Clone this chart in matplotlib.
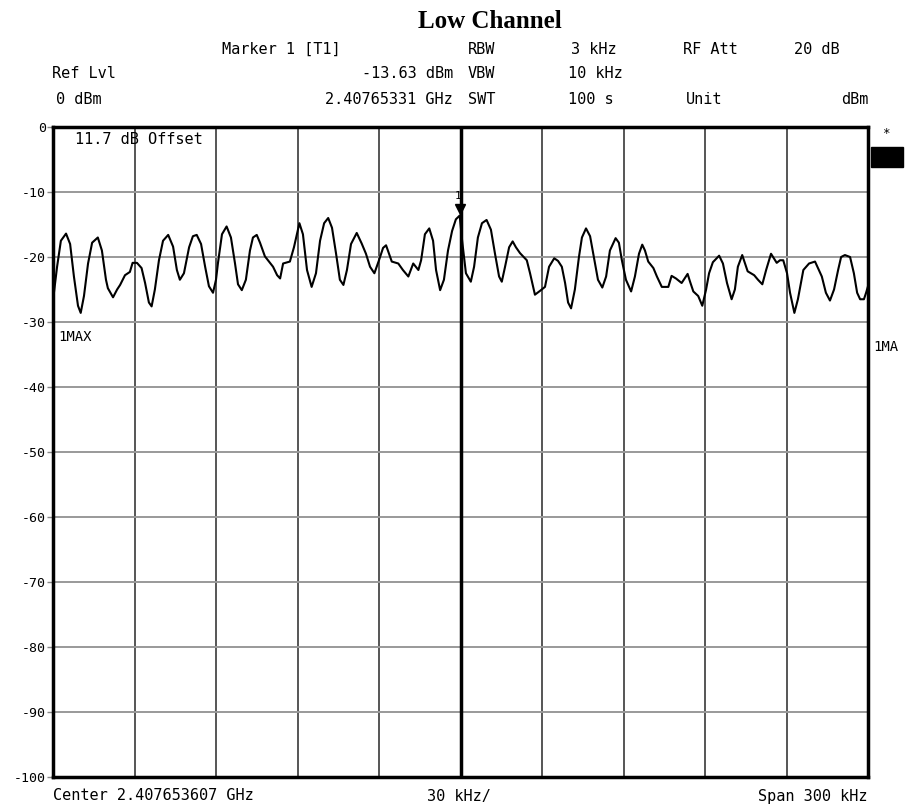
import numpy as np
import matplotlib.pyplot as plt
from matplotlib.patches import Rectangle

## spectrum analyser screen shot, low channel
## frequency offset from center (kHz) and trace level (dBm)
freq_khz = [
    -149.8, -148.5, -147.1, -145.2, -143.7, -142.3, -140.8, -139.8, -138.6, -137.1,
    -135.6, -133.5, -132.0, -130.5, -129.8, -127.9, -126.4, -125.3, -123.5, -121.7,
    -120.7, -119.1, -117.4, -116.1, -114.7, -113.7, -112.5, -111.0, -109.5, -107.6,
    -105.8, -104.4, -103.3, -101.8, -99.9, -98.5, -97.1, -95.5, -94.0, -92.6,
    -91.1, -90.0, -89.3, -87.8, -86.1, -84.5, -83.0, -81.9, -80.5, -79.0,
    -77.5, -76.4, -75.0, -73.8, -72.0, -69.0, -67.5, -66.4, -65.3, -62.8,
    -61.3, -59.3, -58.0, -56.5, -54.8, -53.2, -51.7, -50.2, -48.7, -47.3,
    -45.8, -44.4, -43.1, -41.8, -40.3, -38.2, -36.4, -34.8, -33.3, -31.7,
    -30.0, -28.5, -27.4, -26.3, -25.3, -22.9, -21.2, -19.2, -17.4, -15.5,
    -14.5, -13.1, -11.5, -10.1, -9.0, -7.5, -6.1, -4.6, -3.1, -1.7,
    -0.3, 0.6, 2.0, 3.8, 5.0, 6.4, 7.9, 9.6, 11.2, 12.7,
    14.2, 15.2, 16.4, 17.9, 19.2, 20.4, 21.9, 24.4, 25.6, 27.4,
    29.3, 31.1, 32.6, 34.5, 35.9, 37.3, 38.5, 39.6, 40.7, 42.1,
    43.6, 44.7, 46.2, 47.7, 49.1, 50.6, 52.2, 53.6, 55.0, 57.1,
    58.3, 59.4, 60.9, 62.8, 64.2, 65.7, 66.9, 67.9, 69.1, 71.0,
    72.3, 74.1, 76.5, 77.7, 79.3, 81.4, 83.6, 84.5, 85.7, 87.5,
    89.0, 90.4, 91.5, 92.9, 95.2, 96.6, 98.1, 99.8, 101.0, 102.1,
    103.7, 105.7, 108.1, 109.5, 111.1, 112.5, 114.3, 116.4, 117.6, 118.8,
    120.2, 121.3, 122.9, 124.2, 126.2, 128.3, 130.5, 133.0, 134.5, 136.0,
    137.5, 139.0, 140.1, 141.5, 143.4, 144.8, 146.0, 147.1, 148.5, 149.3,
    150.0,
]
level_dbm = [
    -26.0, -21.5, -17.5, -16.4, -18.0, -23.0, -27.5, -28.6, -26.0, -21.0,
    -17.8, -17.0, -19.0, -23.5, -24.8, -26.2, -25.0, -24.3, -22.8, -22.3,
    -20.9, -20.9, -21.7, -24.0, -27.0, -27.6, -25.0, -20.5, -17.5, -16.6,
    -18.4, -22.0, -23.5, -22.5, -18.5, -16.8, -16.6, -18.0, -21.5, -24.5,
    -25.5, -23.5, -21.0, -16.5, -15.3, -17.0, -21.0, -24.2, -25.1, -23.5,
    -19.0, -17.0, -16.6, -17.8, -19.9, -21.5, -22.8, -23.3, -21.0, -20.7,
    -18.5, -14.8, -16.5, -22.0, -24.6, -22.5, -17.5, -14.8, -14.0, -15.5,
    -19.5, -23.5, -24.3, -22.0, -18.0, -16.3, -17.9, -19.5, -21.5, -22.5,
    -20.5, -18.6, -18.2, -19.5, -20.7, -21.0, -22.0, -23.0, -21.0, -22.0,
    -20.5, -16.5, -15.6, -17.5, -22.0, -25.1, -23.5, -19.0, -16.0, -14.2,
    -13.63, -17.5, -22.5, -23.8, -21.5, -17.0, -14.8, -14.3, -15.8, -19.5,
    -23.0, -23.8, -21.5, -18.5, -17.6, -18.5, -19.4, -20.5, -22.5, -25.8,
    -25.2, -24.6, -21.5, -20.2, -20.6, -21.5, -24.0, -27.0, -27.9, -25.0,
    -20.0, -17.0, -15.6, -16.8, -20.0, -23.5, -24.7, -23.0, -19.0, -17.1,
    -17.8, -20.5, -23.5, -25.3, -23.0, -19.5, -18.1, -19.0, -20.7, -21.7,
    -23.0, -24.6, -24.6, -22.9, -23.3, -24.0, -22.6, -23.8, -25.3, -26.0,
    -27.5, -25.0, -22.5, -20.8, -19.8, -21.0, -24.0, -26.5, -25.0, -21.5,
    -19.7, -22.2, -22.8, -23.5, -24.2, -22.0, -19.5, -20.9, -20.5, -20.5,
    -22.5, -25.5, -28.6, -26.5, -22.0, -21.0, -20.7, -23.0, -25.5, -26.7,
    -25.0, -22.0, -20.0, -19.7, -20.0, -22.5, -25.5, -26.5, -26.5, -25.5,
    -24.5,
]

marker_khz = -0.3
marker_dbm = -13.63
y_ticks = [0, -10, -20, -30, -40, -50, -60, -70, -80, -90, -100]

mono = "DejaVu Sans Mono"
fs = 11

fig = plt.figure(figsize=(9.08, 8.07), dpi=100)
ax = fig.add_axes([53 / 908, 1 - 777 / 807, 815 / 908, 650 / 807])

ax.set_xlim(-150, 150)
ax.set_ylim(-100, 0)

# grid
for xv in np.arange(-120, 150, 30):
    ax.axvline(xv, color="#555555", lw=1.4, zorder=1)
for yv in y_ticks[1:-1]:
    ax.axhline(yv, color="#999999", lw=1.4, zorder=1)
ax.axvline(0, color="black", lw=2.5, zorder=2)  # marker line

ax.plot(freq_khz, level_dbm, color="black", lw=1.5, zorder=3)

# marker 1
ax.plot([marker_khz], [marker_dbm + 1.0], marker="v", color="black", ms=7, zorder=4)
ax.text(marker_khz - 0.5, marker_dbm + 2.2, "1", fontsize=8, family=mono,
        ha="center", va="bottom", zorder=4)

for s in ax.spines.values():
    s.set_linewidth(2.5)
    s.set_color("black")

ax.set_xticks([])
ax.set_yticks(y_ticks)
ax.set_yticklabels([str(v) for v in y_ticks], family=mono, fontsize=9.5)
ax.tick_params(axis="y", length=4, width=1, color="#888888", pad=1)

ax.text(0.027, 0.992, "11.7 dB Offset", transform=ax.transAxes, family=mono,
        fontsize=fs, ha="left", va="top")
ax.text(0.006, 0.677, "1MAX", transform=ax.transAxes, family=mono,
        fontsize=10, ha="left", va="center")

# header text, figure pixel coordinates
def ftext(x, y, s, ha="left", size=fs):
    fig.text(x / 908, 1 - y / 807, s, ha=ha, va="center", family=mono, fontsize=size)

fig.text(490 / 908, 1 - 22 / 807, "Low Channel", ha="center", va="center",
         family="Liberation Serif", fontweight="bold", fontsize=18)

ftext(222, 49, "Marker 1 [T1]")
ftext(468, 49, "RBW")
ftext(617, 49, "3 kHz", ha="right")
ftext(683, 49, "RF Att")
ftext(840, 49, "20 dB", ha="right")

ftext(52, 74, "Ref Lvl")
ftext(453, 74, "-13.63 dBm", ha="right")
ftext(468, 74, "VBW")
ftext(568, 74, "10 kHz")

ftext(56, 99, "0 dBm")
ftext(453, 99, "2.40765331 GHz", ha="right")
ftext(468, 99, "SWT")
ftext(568, 99, "100 s")
ftext(686, 99, "Unit")
ftext(868, 99, "dBm", ha="right")

ftext(53, 796, "Center 2.407653607 GHz")
ftext(427, 796, "30 kHz/")
ftext(868, 796, "Span 300 kHz", ha="right")

ftext(873, 347, "1MA", size=10)
ftext(886, 134, "*", ha="center", size=9)
fig.patches.append(Rectangle((871 / 908, 1 - 167 / 807), 32 / 908, 20 / 807,
                             transform=fig.transFigure, color="black"))

fig.savefig("out.png", dpi=100)
